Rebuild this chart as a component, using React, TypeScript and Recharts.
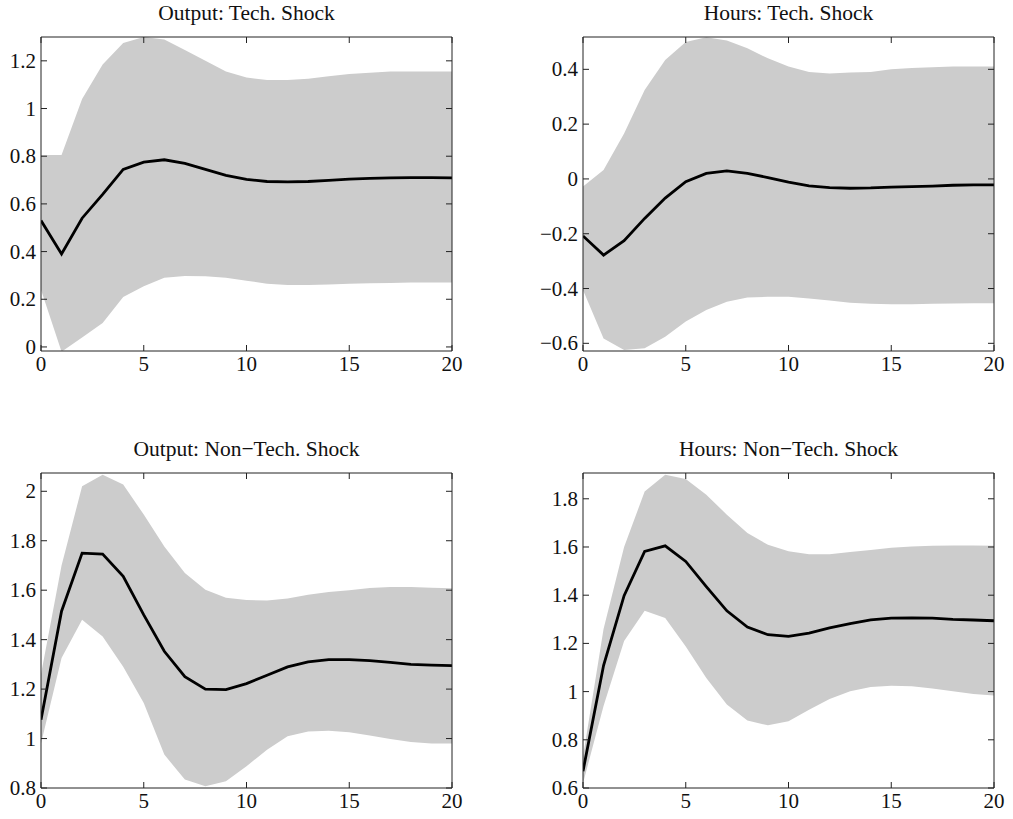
import { ComposedChart, Area, Line, XAxis, YAxis } from 'recharts'

const steps = [0, 1, 2, 3, 4, 5, 6, 7, 8, 9, 10, 11, 12, 13, 14, 15, 16, 17, 18, 19, 20]
const xTicks = [0, 5, 10, 15, 20]

// Output: Tech. Shock
const outTechMean = [0.53, 0.39, 0.54, 0.64, 0.745, 0.775, 0.785, 0.77, 0.745, 0.72, 0.703, 0.694, 0.692, 0.694, 0.699, 0.704, 0.707, 0.709, 0.71, 0.71, 0.709]
const outTechHigh = [0.805, 0.805, 1.04, 1.185, 1.275, 1.3, 1.29, 1.245, 1.2, 1.155, 1.13, 1.12, 1.12, 1.125, 1.135, 1.145, 1.15, 1.155, 1.155, 1.155, 1.155]
const outTechLow = [0.24, -0.02, 0.04, 0.1, 0.21, 0.255, 0.29, 0.298, 0.297, 0.29, 0.278, 0.265, 0.26, 0.26, 0.262, 0.265, 0.267, 0.268, 0.27, 0.27, 0.27]
const outTechTicks = [0, 0.2, 0.4, 0.6, 0.8, 1, 1.2]

// Hours: Tech. Shock
const hoursTechMean = [-0.208, -0.278, -0.225, -0.144, -0.07, -0.01, 0.02, 0.029, 0.02, 0.005, -0.012, -0.025, -0.032, -0.034, -0.033, -0.03, -0.028, -0.026, -0.023, -0.022, -0.022]
const hoursTechHigh = [-0.028, 0.033, 0.166, 0.325, 0.434, 0.5, 0.517, 0.505, 0.477, 0.44, 0.41, 0.39, 0.385, 0.388, 0.39, 0.4, 0.405, 0.408, 0.41, 0.41, 0.41]
const hoursTechLow = [-0.405, -0.582, -0.624, -0.618, -0.576, -0.52, -0.478, -0.448, -0.433, -0.43, -0.43, -0.436, -0.444, -0.452, -0.456, -0.457, -0.457, -0.456, -0.455, -0.454, -0.454]
const hoursTechTicks = [-0.6, -0.4, -0.2, 0, 0.2, 0.4]

// Output: Non-Tech. Shock
const outNonMean = [1.076, 1.515, 1.75, 1.746, 1.656, 1.5, 1.353, 1.25, 1.2, 1.198, 1.222, 1.256, 1.29, 1.31, 1.319, 1.319, 1.315, 1.308, 1.3, 1.297, 1.295]
const outNonHigh = [1.26, 1.7, 2.02, 2.067, 2.027, 1.906, 1.777, 1.67, 1.602, 1.569, 1.56, 1.558, 1.566, 1.582, 1.593, 1.6, 1.609, 1.613, 1.613, 1.61, 1.608]
const outNonLow = [0.98, 1.326, 1.48, 1.413, 1.29, 1.144, 0.935, 0.834, 0.807, 0.827, 0.888, 0.955, 1.009, 1.029, 1.032, 1.025, 1.012, 0.998, 0.986, 0.98, 0.98]
const outNonTicks = [0.8, 1, 1.2, 1.4, 1.6, 1.8, 2]

// Hours: Non-Tech. Shock
const hoursNonMean = [0.67, 1.108, 1.398, 1.582, 1.605, 1.54, 1.436, 1.335, 1.268, 1.236, 1.229, 1.243, 1.264, 1.282, 1.298, 1.305, 1.306, 1.305, 1.3, 1.297, 1.294]
const hoursNonHigh = [0.73, 1.26, 1.6, 1.83, 1.9, 1.882, 1.817, 1.734, 1.658, 1.609, 1.582, 1.57, 1.57, 1.579, 1.588, 1.597, 1.602, 1.605, 1.606, 1.606, 1.605]
const hoursNonLow = [0.62, 0.94, 1.21, 1.335, 1.305, 1.187, 1.056, 0.946, 0.88, 0.86, 0.877, 0.925, 0.969, 1.001, 1.019, 1.024, 1.022, 1.013, 1.001, 0.99, 0.984]
const hoursNonTicks = [0.6, 0.8, 1, 1.2, 1.4, 1.6, 1.8]

const FONT = '"Liberation Serif", "Times New Roman", serif'
const INK = '#222'
const PAD_L = 45
const PAD_T = 37
const PAD_R = 15
const PAD_B = 30

const fmt = (v: number) => (v < 0 ? '\u2212' + String(-v) : String(v))

function BottomTick({ x, y, payload }: any) {
  return (
    <g>
      <line x1={x} x2={x} y1={y} y2={y - 6} stroke={INK} />
      <text x={x} y={y + 20} textAnchor="middle" fontFamily={FONT} fontSize={21} fill="#111">
        {fmt(payload.value)}
      </text>
    </g>
  )
}

function LeftTick({ x, y, payload }: any) {
  return (
    <g>
      <line x1={x} x2={x + 6} y1={y} y2={y} stroke={INK} />
      <text x={x - 5} y={y + 7} textAnchor="end" fontFamily={FONT} fontSize={21} fill="#111">
        {fmt(payload.value)}
      </text>
    </g>
  )
}

function TopTick({ x, y }: any) {
  return <line x1={x} x2={x} y1={y} y2={y + 6} stroke={INK} />
}

function RightTick({ x, y }: any) {
  return <line x1={x - 6} x2={x} y1={y} y2={y} stroke={INK} />
}

interface PanelProps {
  title: string
  mean: number[]
  low: number[]
  high: number[]
  yTicks: number[]
  yDomain: [number, number]
  left: number
  top: number
  plotW: number
  plotH: number
}

function Panel({ title, mean, low, high, yTicks, yDomain, left, top, plotW, plotH }: PanelProps) {
  const data = steps.map((t, i) => ({ t, band: [low[i], high[i]], mean: mean[i] }))
  return (
    <>
      <div
        style={{
          position: 'absolute',
          left,
          top: top - 34,
          width: plotW,
          textAlign: 'center',
          fontFamily: FONT,
          fontSize: 21.5,
          lineHeight: '21px',
          color: '#111',
        }}
      >
        {title}
      </div>
      <div style={{ position: 'absolute', left: left - PAD_L, top: top - PAD_T }}>
        <ComposedChart
          width={plotW + PAD_L + PAD_R}
          height={plotH + PAD_T + PAD_B}
          data={data}
          margin={{ top: PAD_T - 10, right: PAD_R - 10, bottom: 0, left: 0 }}
        >
          <XAxis
            xAxisId="b"
            dataKey="t"
            type="number"
            domain={[0, 20]}
            ticks={xTicks}
            allowDataOverflow
            height={PAD_B}
            tickSize={0}
            tickMargin={0}
            axisLine={{ stroke: INK }}
            tick={<BottomTick />}
          />
          <XAxis
            xAxisId="t"
            orientation="top"
            dataKey="t"
            type="number"
            domain={[0, 20]}
            ticks={xTicks}
            allowDataOverflow
            height={10}
            tickSize={0}
            tickMargin={0}
            axisLine={{ stroke: INK }}
            tick={<TopTick />}
          />
          <YAxis
            yAxisId="l"
            type="number"
            domain={yDomain}
            ticks={yTicks}
            allowDataOverflow
            width={PAD_L}
            tickSize={0}
            tickMargin={0}
            axisLine={{ stroke: INK }}
            tick={<LeftTick />}
          />
          <YAxis
            yAxisId="r"
            orientation="right"
            type="number"
            domain={yDomain}
            ticks={yTicks}
            allowDataOverflow
            width={10}
            tickSize={0}
            tickMargin={0}
            axisLine={{ stroke: INK }}
            tick={<RightTick />}
          />
          <Area
            xAxisId="b"
            yAxisId="l"
            type="linear"
            dataKey="band"
            fill="#cccccc"
            fillOpacity={1}
            stroke="none"
            isAnimationActive={false}
            activeDot={false}
          />
          <Line
            xAxisId="b"
            yAxisId="l"
            type="linear"
            dataKey="mean"
            stroke="#000"
            strokeWidth={2.8}
            dot={false}
            activeDot={false}
            isAnimationActive={false}
          />
        </ComposedChart>
      </div>
    </>
  )
}

export default function App() {
  return (
    <div style={{ position: 'absolute', left: 0, top: 0, width: 1013, height: 819, background: '#fff' }}>
      <Panel
        title="Output: Tech. Shock"
        mean={outTechMean}
        low={outTechLow}
        high={outTechHigh}
        yTicks={outTechTicks}
        yDomain={[-0.017, 1.3]}
        left={41}
        top={37}
        plotW={411}
        plotH={314}
      />
      <Panel
        title="Hours: Tech. Shock"
        mean={hoursTechMean}
        low={hoursTechLow}
        high={hoursTechHigh}
        yTicks={hoursTechTicks}
        yDomain={[-0.628, 0.518]}
        left={583}
        top={37}
        plotW={411}
        plotH={314}
      />
      <Panel
        title={'Output: Non\u2212Tech. Shock'}
        mean={outNonMean}
        low={outNonLow}
        high={outNonHigh}
        yTicks={outNonTicks}
        yDomain={[0.8, 2.074]}
        left={41}
        top={473}
        plotW={411}
        plotH={315}
      />
      <Panel
        title={'Hours: Non\u2212Tech. Shock'}
        mean={hoursNonMean}
        low={hoursNonLow}
        high={hoursNonHigh}
        yTicks={hoursNonTicks}
        yDomain={[0.6, 1.907]}
        left={583}
        top={473}
        plotW={411}
        plotH={315}
      />
    </div>
  )
}
